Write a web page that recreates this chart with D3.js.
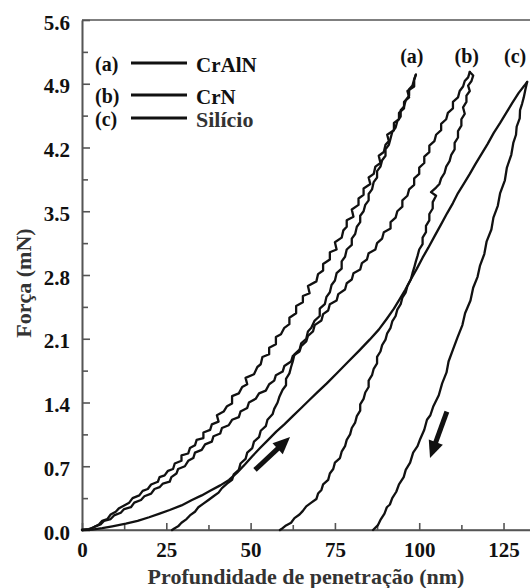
<!DOCTYPE html>
<html><head><meta charset="utf-8">
<script src="https://cdn.jsdelivr.net/npm/d3@7"></script>
<style>body{margin:0;background:#fff}svg{display:block}
svg text{font-family:"Liberation Serif","Times New Roman",Times,"DejaVu Serif",serif;}
</style>
</head><body><svg id="c" width="530" height="588"></svg>
<script>
const xTickValues=[0,25,50,75,100,125];
const xMinorValues=[12.5,37.5,62.5,87.5,112.5];
const yTickValues=[0,0.7,1.4,2.1,2.8,3.5,4.2,4.9,5.6];
const yMinorValues=[0.35,1.05,1.75,2.45,3.15,3.85,4.55,5.25];
const seriesTags=["(a)","(b)","(c)"];
const seriesNames=["CrAlN","CrN","Silício"];

// CrAlN loading / unloading [depth nm, force mN]
const aLoad=[[0,0],[2,0.01],[3.5,0.03],[5,0.06],[6,0.1],[7.5,0.12],[8.5,0.17],[10,0.2],[11,0.24],[12.5,0.27],[14,0.3],[15,0.35],[17,0.38],[18,0.43],[19.5,0.45],[20.5,0.5],[22.5,0.53],[23,0.58],[24.5,0.6],[25.5,0.65],[27,0.67],[27.5,0.73],[29.5,0.76],[29.5,0.82],[31.5,0.84],[32,0.9],[33.5,0.93],[34,0.99],[36,1.01],[36,1.07],[38,1.1],[38.5,1.16],[40.5,1.19],[40,1.26],[42,1.3],[43,1.36],[44.5,1.39],[44.5,1.47],[46.5,1.5],[47.5,1.57],[49,1.6],[48.5,1.67],[51,1.71],[52,1.79],[53,1.82],[53.5,1.9],[55.5,1.93],[55.5,2.0],[57.5,2.04],[57.5,2.12],[59,2.15],[60,2.22],[61.5,2.26],[61.5,2.33],[63.5,2.38],[63.5,2.46],[65.5,2.5],[65.5,2.57],[67.5,2.6],[67,2.68],[69.5,2.73],[70,2.81],[71.5,2.85],[71.5,2.92],[73.5,2.97],[73.5,3.05],[75.5,3.08],[75,3.16],[77,3.21],[77.5,3.29],[78.5,3.33],[78.5,3.4],[80.5,3.44],[80,3.52],[82,3.57],[82,3.64],[83.5,3.68],[83.5,3.75],[85.5,3.8],[85,3.87],[86.5,3.91],[87,3.99],[88.5,4.03],[88,4.11],[89.5,4.15],[90,4.23],[91,4.27],[90.5,4.34],[92.5,4.39],[92.5,4.47],[94,4.51],[94,4.58],[95.5,4.63],[95.5,4.7],[97,4.75],[96.5,4.82],[98.5,4.87],[98.5,4.94],[99,5.0]];
const aUnload=[[99,5.0],[98.5,4.95],[98,4.88],[97,4.84],[97,4.77],[96,4.72],[95.5,4.65],[94.5,4.61],[94.5,4.54],[93.5,4.49],[93,4.42],[92,4.37],[91.5,4.3],[91,4.23],[90,4.18],[90,4.11],[89,4.06],[88.5,3.99],[87.5,3.94],[87.5,3.87],[86.5,3.82],[86,3.74],[85,3.69],[85,3.62],[84,3.57],[83.5,3.5],[82.5,3.45],[82.5,3.38],[81.5,3.33],[81,3.25],[80,3.2],[80,3.13],[78.5,3.08],[78,3.0],[77,2.95],[77,2.87],[75.5,2.82],[75,2.74],[74,2.69],[73.5,2.61],[72.5,2.56],[72,2.48],[70.5,2.43],[70.5,2.35],[69,2.3],[68,2.22],[67,2.18],[66.5,2.1],[65,2.05],[64.5,1.98],[63,1.93],[62.5,1.85],[62,1.79],[61.5,1.72],[60.5,1.66],[60.5,1.59],[59.5,1.54],[58.5,1.46],[58,1.4],[57,1.33],[56.5,1.27],[55,1.21],[54.5,1.14],[53,1.09],[52.5,1.02],[51,0.97],[50.5,0.9],[49,0.85],[48.5,0.78],[47,0.73],[46.5,0.66],[45,0.61],[44.5,0.55],[43,0.51],[41.5,0.46],[40.5,0.41],[39,0.37],[37.5,0.33],[36,0.29],[34.5,0.25],[33.5,0.2],[32,0.16],[31,0.12],[29.5,0.08],[28.5,0.04],[27.5,0.02],[26.7,0]];
// CrN loading / unloading
const bLoad=[[0,0],[2.5,0.01],[4,0.04],[5.5,0.06],[6.5,0.1],[8.5,0.12],[9.5,0.16],[11.5,0.19],[12.5,0.23],[14.5,0.25],[15.5,0.3],[17.5,0.33],[18.5,0.37],[20.5,0.4],[21.5,0.45],[23,0.47],[24,0.51],[26,0.53],[26.5,0.58],[28,0.62],[28.5,0.67],[30.5,0.7],[31.5,0.76],[33,0.79],[33.5,0.85],[35.5,0.88],[36.5,0.94],[38.5,0.97],[39,1.03],[41,1.06],[41.5,1.12],[43.5,1.15],[44.5,1.21],[46.5,1.24],[47,1.3],[49,1.34],[49.5,1.4],[51.5,1.44],[52.5,1.5],[54.5,1.53],[55.5,1.6],[57,1.64],[57.5,1.7],[59.5,1.74],[60,1.8],[62,1.85],[62.5,1.91],[64.5,1.96],[65,2.02],[66.5,2.07],[67,2.13],[68.5,2.18],[69,2.25],[71,2.3],[71.5,2.37],[73,2.41],[73.5,2.48],[75.5,2.52],[76,2.59],[78,2.64],[78.5,2.71],[80,2.75],[80.5,2.82],[82.5,2.86],[83,2.93],[84.5,2.97],[85,3.04],[87,3.08],[87.5,3.15],[89,3.2],[89.5,3.27],[91.5,3.31],[91.5,3.38],[93,3.43],[93.5,3.5],[95,3.55],[95,3.62],[96.5,3.67],[97,3.74],[98.5,3.79],[98.5,3.86],[100,3.91],[100,3.98],[101.5,4.03],[101.5,4.1],[103,4.15],[103,4.22],[104.5,4.27],[105,4.34],[106.5,4.39],[106.5,4.46],[108,4.51],[108.5,4.58],[110,4.63],[110,4.7],[111.5,4.75],[112,4.82],[113,4.87],[113.5,4.93],[114.5,4.97],[115,5.03]];
const bUnload=[[115,5.03],[116,4.99],[115.5,4.93],[114.5,4.88],[115,4.82],[114,4.77],[114,4.7],[113,4.64],[113.5,4.57],[112.5,4.51],[112.5,4.44],[111.5,4.38],[111.5,4.31],[110.5,4.25],[110.5,4.18],[109.5,4.12],[109,4.05],[108,3.99],[107.5,3.92],[106.5,3.86],[106,3.8],[105,3.76],[103.5,3.71],[105,3.67],[104,3.6],[104,3.53],[103,3.47],[103,3.4],[102,3.34],[102,3.27],[101,3.21],[101,3.14],[100,3.08],[99.5,3.01],[99,2.95],[98.5,2.88],[98,2.82],[97.5,2.75],[96.5,2.68],[96,2.61],[95,2.55],[94.5,2.48],[93.5,2.42],[93,2.35],[92,2.29],[91.5,2.22],[90.5,2.16],[90,2.09],[89,2.03],[88.5,1.96],[87.5,1.9],[87.5,1.83],[86.5,1.77],[86,1.7],[85,1.64],[85,1.57],[84,1.51],[83.5,1.44],[82.5,1.38],[82.5,1.31],[81.5,1.25],[81,1.18],[80,1.12],[79.5,1.05],[78.5,0.99],[78,0.92],[77,0.86],[76.5,0.79],[75,0.74],[74.5,0.67],[73.5,0.62],[73,0.55],[71.5,0.5],[71,0.44],[70,0.4],[69.5,0.34],[68,0.3],[66.5,0.26],[65.5,0.21],[64.5,0.17],[63,0.13],[62,0.08],[60.5,0.05],[59.5,0.02],[58.7,0]];
// Silício loading / unloading
const cLoad=[[0,0],[3,0.005],[6,0.02],[9,0.04],[13,0.07],[16.5,0.1],[19.9,0.14],[23,0.18],[26,0.22],[29.5,0.27],[32.6,0.33],[35.5,0.38],[38,0.43],[41,0.49],[43.6,0.55],[46,0.63],[48.3,0.72],[50.5,0.81],[52.8,0.9],[55.2,0.99],[57.6,1.08],[60,1.16],[62.5,1.25],[65,1.34],[67.5,1.43],[70,1.52],[72.6,1.61],[75.8,1.73],[79,1.85],[82.2,1.97],[85.3,2.09],[88,2.2],[90.4,2.32],[92.5,2.43],[94.3,2.54],[95.9,2.64],[97.5,2.75],[99.3,2.87],[101,2.99],[102.7,3.1],[104.6,3.23],[106.4,3.35],[108.3,3.48],[110,3.59],[111.5,3.7],[113.2,3.8],[115,3.91],[116.7,4.02],[118.5,4.13],[120.3,4.24],[122.1,4.36],[124,4.47],[125.8,4.58],[127.6,4.69],[129.5,4.8],[131.2,4.88],[132,4.92]];
const cUnload=[[132,4.92],[131.5,4.84],[131,4.75],[130.5,4.68],[129.9,4.61],[129.8,4.52],[128.9,4.43],[128.7,4.34],[127.9,4.25],[127.3,4.12],[126,3.98],[125.4,3.84],[124,3.7],[123.3,3.56],[122,3.43],[121.4,3.3],[120,3.17],[119.3,3.03],[118,2.9],[117.3,2.78],[116,2.66],[115.2,2.52],[113.6,2.38],[112.8,2.25],[111.3,2.11],[110,1.98],[108.7,1.85],[108.1,1.73],[106.8,1.61],[105.8,1.48],[104.2,1.36],[103.3,1.26],[102.3,1.21],[101.5,1.1],[100.3,1.0],[99.5,0.92],[98.2,0.85],[97.3,0.74],[96,0.66],[95.4,0.58],[94,0.5],[93.2,0.42],[92,0.35],[91.3,0.28],[90.4,0.25],[89.7,0.18],[88.5,0.11],[87.7,0.05],[86.3,0]];

const arrowFrom=[[51.3,0.66],[108.2,1.30]];
const arrowTo=[[61.7,1.02],[103.2,0.79]];

const svg=d3.select("#c");
const x=d3.scaleLinear().domain([0,132.85]).range([82,530]);
const y=d3.scaleLinear().domain([0,5.6]).range([530,20]);
const axisColor="#555";

svg.append("line").attr("x1",x(0)).attr("x2",530).attr("y1",y(5.6)).attr("y2",y(5.6))
  .attr("stroke",axisColor).attr("stroke-width",1.6);

const gx=svg.append("g").attr("transform",`translate(0,${y(0)})`)
  .call(d3.axisBottom(x).tickValues(xTickValues).tickSize(-7).tickSizeOuter(0).tickPadding(12).tickFormat(d3.format("d")));
const gxm=svg.append("g").attr("transform",`translate(0,${y(0)})`)
  .call(d3.axisBottom(x).tickValues(xMinorValues).tickSize(-5).tickSizeOuter(0).tickFormat(""));
const gy=svg.append("g").attr("transform",`translate(${x(0)},0)`)
  .call(d3.axisLeft(y).tickValues(yTickValues).tickSize(-8).tickSizeOuter(0).tickPadding(12).tickFormat(d3.format(".1f")));
const gym=svg.append("g").attr("transform",`translate(${x(0)},0)`)
  .call(d3.axisLeft(y).tickValues(yMinorValues).tickSize(-6).tickSizeOuter(0).tickFormat(""));
[gx,gxm,gy,gym].forEach(g=>{
  g.attr("font-family",null);
  g.select(".domain").attr("stroke",axisColor).attr("stroke-width",1.6);
  g.selectAll(".tick line").attr("stroke",axisColor).attr("stroke-width",1.6);
  g.selectAll("text").attr("font-size",21).attr("font-weight","bold").attr("fill","#111");
});
gy.selectAll("text").attr("dy","0.43em");
gx.select(".domain").attr("d",`M${x(0)},0H530`);

svg.append("text").attr("x",306).attr("y",584).attr("text-anchor","middle")
  .attr("font-size",22).attr("font-weight","bold").attr("fill","#333").text("Profundidade de penetração (nm)");
svg.append("text").attr("transform","translate(31,283) rotate(-90)").attr("text-anchor","middle")
  .attr("font-size",22).attr("font-weight","bold").attr("fill","#333").text("Força (mN)");

const line=d3.line().x(d=>x(d[0])).y(d=>y(d[1]));
const curves=[aLoad,aUnload,bLoad,bUnload,cLoad,cUnload];
svg.append("g").selectAll("path").data(curves).join("path")
  .attr("d",line).attr("fill","none").attr("stroke","#111").attr("stroke-width",2.3)
  .attr("stroke-linejoin","round").attr("stroke-linecap","round");

arrowFrom.forEach((f,i)=>{
  const t=arrowTo[i];
  const x0=x(f[0]),y0=y(f[1]),x1=x(t[0]),y1=y(t[1]);
  const dx=x1-x0,dy=y1-y0,L=Math.hypot(dx,dy),ux=dx/L,uy=dy/L;
  const hl=17,hw=7.5;
  const bx=x1-ux*hl,by=y1-uy*hl;
  svg.append("line").attr("x1",x0).attr("y1",y0).attr("x2",bx+ux*2).attr("y2",by+uy*2)
    .attr("stroke","#111").attr("stroke-width",5);
  svg.append("path").attr("d",`M${x1},${y1}L${bx-uy*hw},${by+ux*hw}L${bx+uy*hw},${by-ux*hw}Z`).attr("fill","#111");
});

const peaks=[aLoad[aLoad.length-1],bLoad[bLoad.length-1],cLoad[cLoad.length-1]];
const peakShift=[-4,-3,-12];
peaks.forEach((p,i)=>{
  svg.append("text").attr("x",x(p[0])+peakShift[i]).attr("y",63).attr("text-anchor","middle")
    .attr("font-size",20).attr("font-weight","bold").attr("fill","#111").text(seriesTags[i]);
});

const rowY=[63,95,118];
seriesTags.forEach((tag,i)=>{
  svg.append("text").attr("x",95).attr("y",rowY[i]+8).attr("font-size",20)
    .attr("font-weight","bold").attr("fill","#111").text(tag);
  svg.append("line").attr("x1",131).attr("x2",187).attr("y1",rowY[i]).attr("y2",rowY[i])
    .attr("stroke","#111").attr("stroke-width",3);
  svg.append("text").attr("x",196).attr("y",rowY[i]+9).attr("font-size",i<2?21:22)
    .attr("font-weight","bold").attr("fill",i<2?"#111":"#333").text(seriesNames[i]);
});
</script></body></html>
